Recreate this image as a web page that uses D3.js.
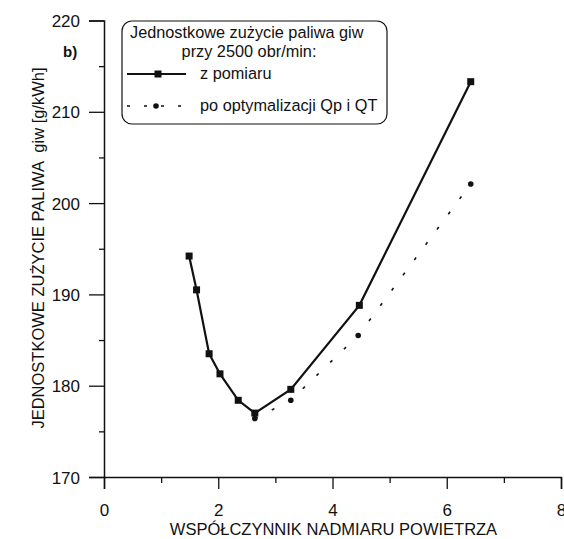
<!DOCTYPE html>
<html>
<head>
<meta charset="utf-8">
<script src="https://cdn.jsdelivr.net/npm/d3@7"></script>
<style>
  html, body { margin: 0; padding: 0; background: #fff; }
  svg text { font-family: "Liberation Sans", Arial, sans-serif; fill: #111; }
</style>
</head>
<body>
<svg id="chart" width="564" height="539"></svg>
<script>
// Measured specific fuel consumption vs. excess-air ratio at 2500 rpm
const lambdaMeasured = [1.49, 1.62, 1.84, 2.03, 2.35, 2.64, 3.27, 4.47, 6.42];
const giwMeasured    = [194.2, 190.5, 183.5, 181.3, 178.4, 177.0, 179.6, 188.8, 213.3];

// After optimisation of Qp and QT
const lambdaOptimized = [2.64, 3.27, 4.45, 6.42];
const giwOptimized    = [176.4, 178.4, 185.5, 202.1];

const xTicks = [0, 2, 4, 6, 8];
const xMinorTicks = [1, 3, 5, 7];
const yTicks = [170, 180, 190, 200, 210, 220];
const yMinorTicks = [175, 185, 195, 205, 215];

const legendTitle = ["Jednostkowe zużycie paliwa giw", "przy 2500 obr/min:"];
const seriesNames = ["z pomiaru", "po optymalizacji Qp i QT"];
const xTitle = "WSPÓŁCZYNNIK NADMIARU POWIETRZA";
const yTitle = "JEDNOSTKOWE ZUŻYCIE PALIWA  giw [g/kWh]";
const panelTag = "b)";

const svg = d3.select("#chart");
const ink = "#111";

const x = d3.scaleLinear().domain([0, 8]).range([104, 561]);
const y = d3.scaleLinear().domain([170, 220]).range([477, 20.5]);

// Axes
const gx = svg.append("g").attr("transform", `translate(0,${y(170)})`);
gx.call(d3.axisBottom(x).tickValues(xTicks).tickSize(12).tickFormat(d3.format("d")));
const gxm = svg.append("g").attr("transform", `translate(0,${y(170)})`);
gxm.call(d3.axisBottom(x).tickValues(xMinorTicks).tickSize(6).tickFormat(""));
gxm.select(".domain").remove();

const gy = svg.append("g").attr("transform", `translate(${x(0)},0)`);
gy.call(d3.axisLeft(y).tickValues(yTicks).tickSize(15).tickFormat(d3.format("d")));
const gym = svg.append("g").attr("transform", `translate(${x(0)},0)`);
gym.call(d3.axisLeft(y).tickValues(yMinorTicks).tickSize(5).tickFormat(""));
gym.select(".domain").remove();

svg.selectAll(".domain").attr("stroke", ink).attr("stroke-width", 1.5);
svg.selectAll(".tick line").attr("stroke", ink).attr("stroke-width", 1.3);
gx.selectAll(".tick text").attr("font-size", 17).attr("dy", null).attr("y", 39)
  .attr("font-family", "Liberation Sans, Arial, sans-serif").attr("fill", ink);
gy.selectAll(".tick text").attr("font-size", 17).attr("x", -24).attr("dy", "0.36em")
  .attr("font-family", "Liberation Sans, Arial, sans-serif").attr("fill", ink);

// Axis titles
svg.append("text")
  .attr("x", (x(0) + x(8)) / 2 + 1).attr("y", 535)
  .attr("text-anchor", "middle").attr("font-size", 16.5)
  .text(xTitle);

svg.append("text")
  .attr("transform", `translate(44,${248}) rotate(-90)`)
  .attr("text-anchor", "middle").attr("font-size", 16.5)
  .attr("xml:space", "preserve")
  .text(yTitle);

svg.append("text")
  .attr("x", 63).attr("y", 57)
  .attr("font-size", 15).attr("font-weight", "bold")
  .text(panelTag);

// Series
const lineGen = d3.line().x(d => x(d[0])).y(d => y(d[1]));
const measured = lambdaMeasured.map((v, i) => [v, giwMeasured[i]]);
const optimized = lambdaOptimized.map((v, i) => [v, giwOptimized[i]]);

svg.append("path").datum(optimized)
  .attr("d", lineGen).attr("fill", "none")
  .attr("stroke", ink).attr("stroke-width", 1.6)
  .attr("stroke-dasharray", "3,16");

svg.append("path").datum(measured)
  .attr("d", lineGen).attr("fill", "none")
  .attr("stroke", ink).attr("stroke-width", 2.2);

svg.selectAll("rect.m").data(measured).enter().append("rect")
  .attr("class", "m")
  .attr("x", d => x(d[0]) - 3.5).attr("y", d => y(d[1]) - 3.5)
  .attr("width", 7).attr("height", 7).attr("fill", ink);

svg.selectAll("circle.o").data(optimized).enter().append("circle")
  .attr("class", "o")
  .attr("cx", d => x(d[0])).attr("cy", d => y(d[1]))
  .attr("r", 2.8).attr("fill", ink);

// Legend
const lg = svg.append("g");
lg.append("rect")
  .attr("x", 122).attr("y", 21).attr("width", 265).attr("height", 103)
  .attr("rx", 10).attr("ry", 10)
  .attr("fill", "#fff").attr("stroke", ink).attr("stroke-width", 1.2);
lg.append("text").attr("x", 130).attr("y", 38).attr("font-size", 16.3).text(legendTitle[0]);
lg.append("text").attr("x", 249).attr("y", 57).attr("text-anchor", "middle")
  .attr("font-size", 16.3).text(legendTitle[1]);

lg.append("line").attr("x1", 127).attr("x2", 186).attr("y1", 74).attr("y2", 74)
  .attr("stroke", ink).attr("stroke-width", 2.2);
lg.append("rect").attr("x", 158 - 3.5).attr("y", 74 - 3.5).attr("width", 7).attr("height", 7).attr("fill", ink);
lg.append("text").attr("x", 200).attr("y", 79).attr("font-size", 16.3).text(seriesNames[0]);

lg.append("line").attr("x1", 127).attr("x2", 188).attr("y1", 106).attr("y2", 106)
  .attr("stroke", ink).attr("stroke-width", 1.6).attr("stroke-dasharray", "3,14");
lg.append("circle").attr("cx", 156).attr("cy", 106).attr("r", 2.8).attr("fill", ink);
lg.append("text").attr("x", 200).attr("y", 111).attr("font-size", 16.3).text(seriesNames[1]);
</script>
</body>
</html>
